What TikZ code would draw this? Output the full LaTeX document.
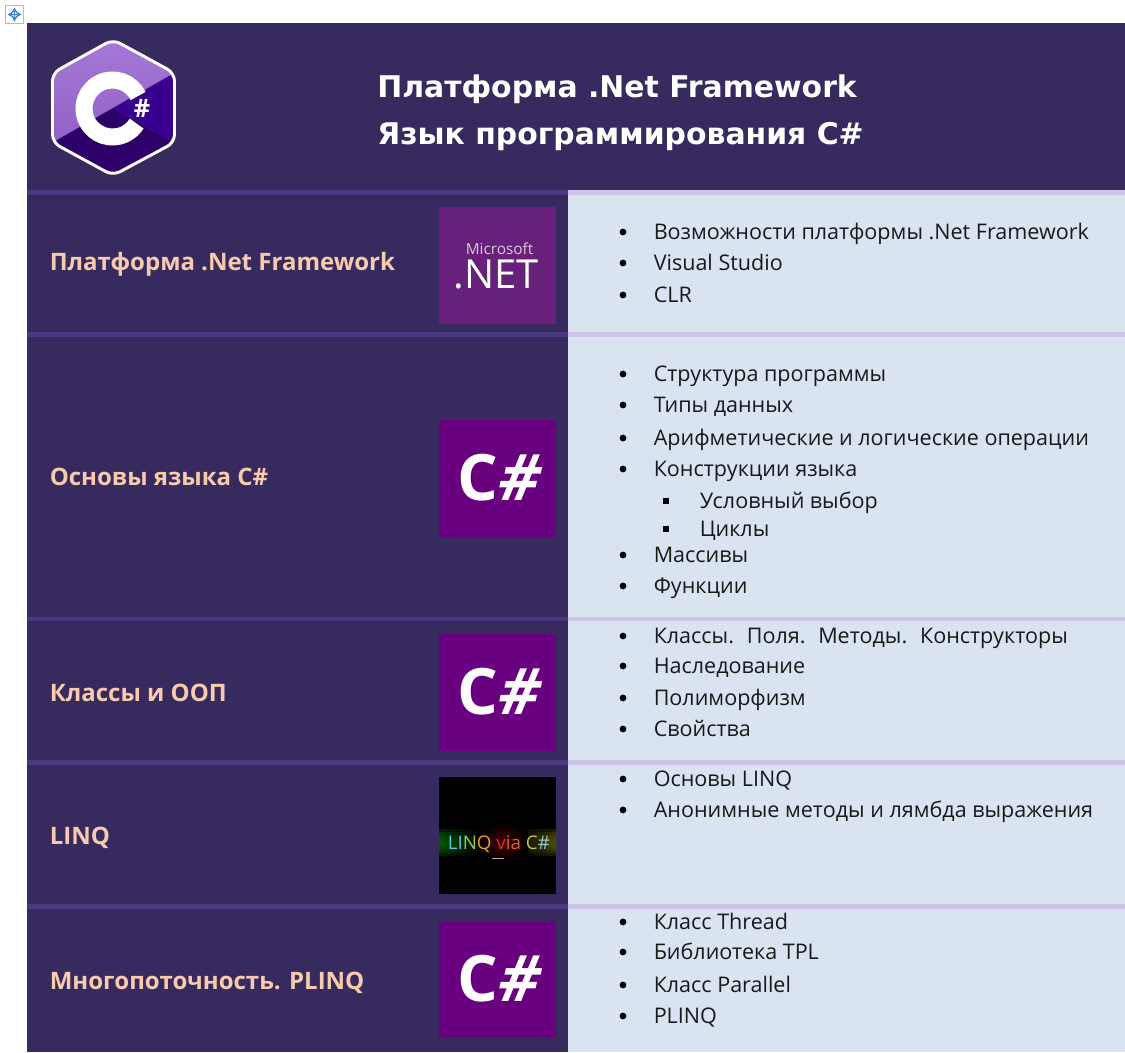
\documentclass[tikz,border=0pt]{standalone}
\usepackage{fontspec}
\setmainfont{Open Sans}
\newfontfamily\titlefont{DejaVu Sans}
\newfontfamily\slantfont[FakeSlant=0.22]{Open Sans}
\usetikzlibrary{arrows.meta}
\definecolor{bandL}{HTML}{372A5E}
\definecolor{sepL}{HTML}{483A80}
\definecolor{sepR}{HTML}{CFC4E8}
\definecolor{bodyR}{HTML}{DAE4F0}
\definecolor{labelc}{HTML}{F8CBAD}
\definecolor{tilec}{HTML}{68007F}
\definecolor{tilen}{HTML}{68217A}
\definecolor{hexA}{HTML}{A77BD8}
\definecolor{hexB}{HTML}{8A58C0}
\definecolor{hexC}{HTML}{390090}
\definecolor{hexD}{HTML}{2C0068}
\definecolor{moveblue}{HTML}{3F7FDD}
\tikzset{
 x=0.75pt,y=0.75pt,
 titletext/.style={anchor=base west,inner sep=0,text=white,font=\titlefont\fontsize{22.4pt}{26pt}\selectfont\bfseries},
 sidelabel/.style={anchor=base west,inner sep=0,text=labelc,font=\fontsize{18pt}{21pt}\selectfont\bfseries},
 itemtext/.style={anchor=base west,inner sep=0,text=black!90,font=\fontsize{16.15pt}{19pt}\selectfont},
 tile/.style={anchor=north west,inner sep=0,minimum width=87.75pt,minimum height=87.75pt},
 cstext/.style={text=white,inner sep=0,font=\fontsize{48pt}{50pt}\selectfont\bfseries},
 movearrow/.style={{Stealth[length=4.5,width=5]}-{Stealth[length=4.5,width=5]},draw=moveblue,line width=1.3},
}
\newcommand{\lineitem}[3]{\fill[black] (623,-#2+8) circle[radius=3.4];\node[itemtext] (#1) at (653.5,-#2+0.5) {#3};}
\newcommand{\sublineitem}[3]{\fill[black] (663,-#2+5) rectangle (669,-#2+11);\node[itemtext] (#1) at (699.5,-#2+0.5) {#3};}
\newcommand{\cstile}[2]{\node[tile,fill=tilec] (#1) at (439,-#2) {};\node[cstext] (#1t) at (497.5,-#2-58) {C\kern-2pt{\slantfont\bfseries\#}};}
\begin{document}
\begin{tikzpicture}
\useasboundingbox (0,0) rectangle (1125,-1053);
\fill[white] (0,0) rectangle (1125,-1053);
% panels
\fill[bandL] (27,-23) rectangle (1125,-190);
\fill[bandL] (27,-190) rectangle (568,-1052);
\fill[bodyR] (568,-190) rectangle (1125,-1052);
\foreach \yy in {190,332,616.5,760,904}{
  \fill[sepL] (27,-\yy) rectangle (568,-\yy-4.5);
  \fill[sepR] (568,-\yy) rectangle (1125,-\yy-4.5);
}
% move handle
\draw[black!28,line width=1.4,fill=white] (5.5,-5.5) rectangle (23.5,-23.5);
\draw[movearrow] (7.5,-14.5) -- (21.5,-14.5);
\draw[movearrow] (14.5,-7.5) -- (14.5,-21.5);
% C# hexagon
\begin{scope}
\clip[rounded corners=6] (113,-39.5) -- (174.5,-73) -- (174.5,-142.5) -- (113,-175.5) -- (52.5,-142.5) -- (52.5,-73) -- cycle;
\fill[top color=hexA,bottom color=hexB] (40,-30) rectangle (185,-185);
\fill[hexC] (113,-108) -- (190,-64) -- (190,-152) -- cycle;
\fill[hexD] (113,-108) -- (190,-152) -- (190,-190) -- (36,-190) -- (36,-152) -- cycle;
\end{scope}
\draw[white,line width=2.2,rounded corners=6] (113,-39.5) -- (174.5,-73) -- (174.5,-142.5) -- (113,-175.5) -- (52.5,-142.5) -- (52.5,-73) -- cycle;
\draw[white,line width=12.75] (138.1,-96) arc[start angle=26,end angle=328,radius=28.5];
\node[text=white,inner sep=0,font=\fontsize{19pt}{20pt}\selectfont\bfseries] (hash) at (142,-108) {\#};
% title
\node[titletext] (title1) at (377,-97) {Платформа .Net Framework};
\node[titletext] (title2) at (377,-144) {Язык программирования C\#};
% left labels
\node[sidelabel] (s1) at (49.5,-270.5) {Платформа .Net Framework};
\node[sidelabel] (s2) at (49.5,-485.5) {Основы языка C\#};
\node[sidelabel] (s3) at (49.5,-701.5) {Классы и ООП};
\node[sidelabel] (s4) at (49.5,-844.5) {LINQ};
\node[sidelabel] (s5) at (49.5,-989.5) {Многопоточность. PLINQ};
% tiles
\node[tile,fill=tilen] (net) at (439,-207) {};
\node[text=white!75!tilen,inner sep=0,anchor=base,font=\fontsize{11.5pt}{14pt}\selectfont] (netm) at (499.5,-254) {Microsoft};
\node[text=white,inner sep=0,anchor=base,font=\fontsize{30pt}{32pt}\selectfont] (netn) at (496.5,-288) {.NET};
\cstile{t2}{420}
\cstile{t3}{634}
\cstile{t5}{921}
\node[tile,fill=black] (linq) at (439,-777) {};
\begin{scope}
\clip (439,-777) rectangle (556,-894);
\foreach \hh in {4,7,10,13}{
  \shade[left color=green!45!black,right color=black,opacity=0.3] (439,-842-\hh) rectangle (480,-842+\hh);
  \shade[right color=yellow!40!black,left color=black,opacity=0.3] (515,-842-\hh) rectangle (556,-842+\hh);
}
\shade[inner color=red!28!black,outer color=black] (478,-822) rectangle (528,-862);
\fill[black!30] (492,-857.6) rectangle (504,-858.4);
\end{scope}
\node[anchor=base west,inner sep=0,font=\fontsize{14.1pt}{16pt}\selectfont] (lq) at (447.5,-849)
 {\textcolor[HTML]{5AC8E0}{LI}\textcolor[HTML]{9CCB50}{N}\textcolor[HTML]{E8A030}{Q} \textcolor[HTML]{E03020}{v}\textcolor[HTML]{E06030}{ia} \textcolor[HTML]{C8C040}{C}\textcolor[HTML]{9CC8D8}{\#}};
% lists
\lineitem{a1}{240}{Возможности платформы .Net Framework}
\lineitem{a2}{271}{Visual Studio}
\lineitem{a3}{303}{CLR}
\lineitem{b1}{382}{Структура программы}
\lineitem{b2}{413}{Типы данных}
\lineitem{b3}{446}{Арифметические и логические операции}
\lineitem{b4}{477}{Конструкции языка}
\sublineitem{b5}{509}{Условный выбор}
\sublineitem{b6}{537}{Циклы}
\lineitem{b7}{563}{Массивы}
\lineitem{b8}{594}{Функции}
\lineitem{c1}{644}{Классы.\hspace{4pt} Поля.\hspace{4pt} Методы.\hspace{4pt} Конструкторы}
\lineitem{c2}{674}{Наследование}
\lineitem{c3}{706}{Полиморфизм}
\lineitem{c4}{737}{Свойства}
\lineitem{d1}{787}{Основы LINQ}
\lineitem{d2}{818}{Анонимные методы и лямбда выражения}
\lineitem{e1}{930}{Класс Thread}
\lineitem{e2}{960}{Библиотека TPL}
\lineitem{e3}{993}{Класс Parallel}
\lineitem{e4}{1024}{PLINQ}
\end{tikzpicture}
\end{document}
